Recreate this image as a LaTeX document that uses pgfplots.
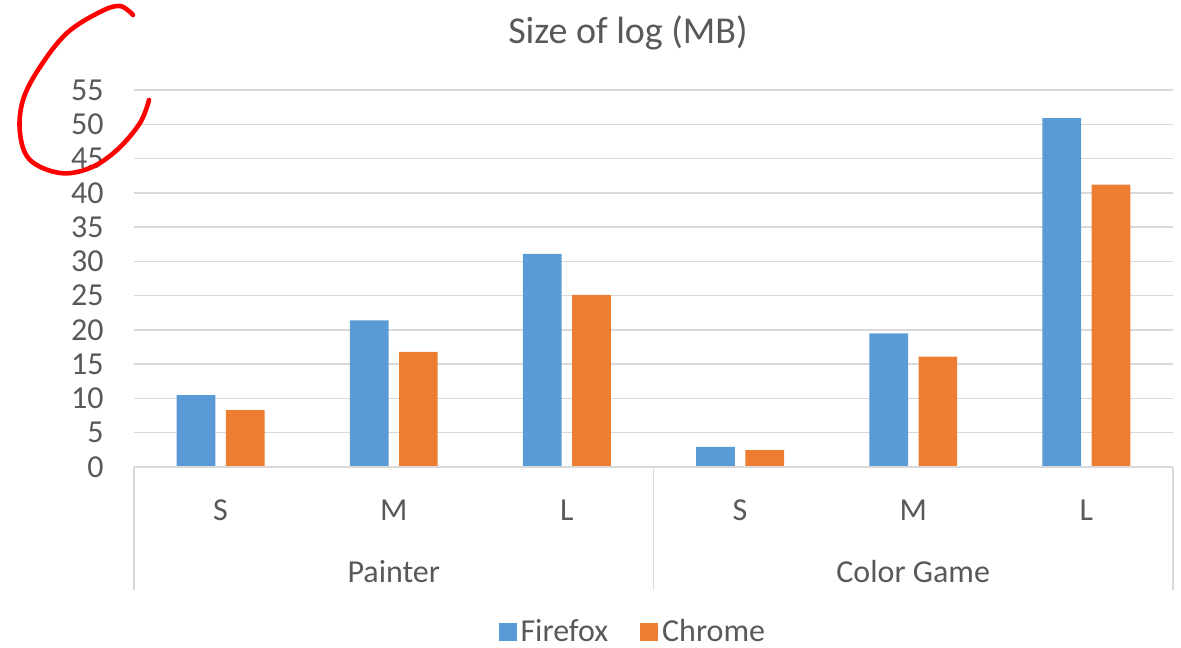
\documentclass[border=0pt]{standalone}
\usepackage{pgfplots}
\pgfplotsset{compat=1.18}
\usepackage{fontspec}
\setmainfont{Carlito}
\definecolor{ffblue}{HTML}{5B9BD5}
\definecolor{chorange}{HTML}{ED7D31}
\definecolor{gridgray}{HTML}{D9D9D9}
\definecolor{txtgray}{HTML}{595959}
\begin{document}
\begin{tikzpicture}
\useasboundingbox (0,0) rectangle (590.5pt,323.5pt);
\begin{axis}[
  at={(67pt,90pt)}, anchor=south west,
  scale only axis, width=519.5pt, height=188.5pt,
  xmin=-0.5, xmax=5.5, ymin=0, ymax=55,
  ytick={0,5,...,55},
  xtick={0,1,2,3,4,5},
  xticklabels={S,M,L,S,M,L},
  major tick length=0pt,
  axis line style={draw=none},
  ymajorgrids, grid style={gridgray, line width=0.75pt},
  /pgf/number format/assume math mode=true,
  yticklabel style={anchor=east, inner sep=0pt, xshift=-15pt, font=\fontsize{16pt}{19pt}\selectfont, text=txtgray},
  xticklabel style={anchor=center, inner sep=0pt, yshift=-21.5pt, font=\fontsize{16pt}{19pt}\selectfont, text=txtgray},
  ybar, bar width=19.35pt,
  clip=false,
  legend columns=2,
  legend style={at={(0.481,-0.4377)}, anchor=center, draw=none, fill=none,
    font=\fontsize{16pt}{19pt}\selectfont, text=txtgray,
    /tikz/every even column/.append style={column sep=14pt}},
  legend image code/.code={\fill[#1] (-1.5pt,-4.5pt) rectangle (7.5pt,4.5pt);},
]
\addplot[fill=ffblue, draw=none, bar shift=-12.3pt] coordinates {(0,10.5) (1,21.4) (2,31.1) (3,2.95) (4,19.5) (5,50.9)};
\addlegendentry{Firefox}
\addplot[fill=chorange, draw=none, bar shift=12.3pt] coordinates {(0,8.3) (1,16.8) (2,25.1) (3,2.45) (4,16.1) (5,41.2)};
\addlegendentry{Chrome}
\end{axis}
% category box
\draw[gridgray, line width=0.75pt] (67pt,90pt) -- (586.5pt,90pt);
\draw[gridgray, line width=0.75pt] (67pt,90pt) -- (67pt,28.5pt);
\draw[gridgray, line width=0.75pt] (326.75pt,90pt) -- (326.75pt,28.5pt);
\draw[gridgray, line width=0.75pt] (586.5pt,90pt) -- (586.5pt,28.5pt);
\node[text=txtgray, font=\fontsize{16pt}{19pt}\selectfont] at (196.9pt,37.5pt) {Painter};
\node[text=txtgray, font=\fontsize{16pt}{19pt}\selectfont] at (456.6pt,37.5pt) {Color Game};
% title
\node[text=txtgray, font=\fontsize{19pt}{23pt}\selectfont] at (314pt,307pt) {Size of log (MB)};
% red annotation
\draw[red, line width=2.3pt, line cap=round] plot[smooth, tension=0.6] coordinates {
 (66.5pt,316pt) (60pt,320.5pt) (50pt,317.5pt) (33.5pt,307pt) (20pt,290pt) (11.5pt,273.5pt) (10pt,257pt) (15pt,243.5pt) (30pt,237pt) (45pt,239.5pt) (58.5pt,248.5pt) (70pt,262pt) (74.5pt,273.5pt)};
\end{tikzpicture}
\end{document}
